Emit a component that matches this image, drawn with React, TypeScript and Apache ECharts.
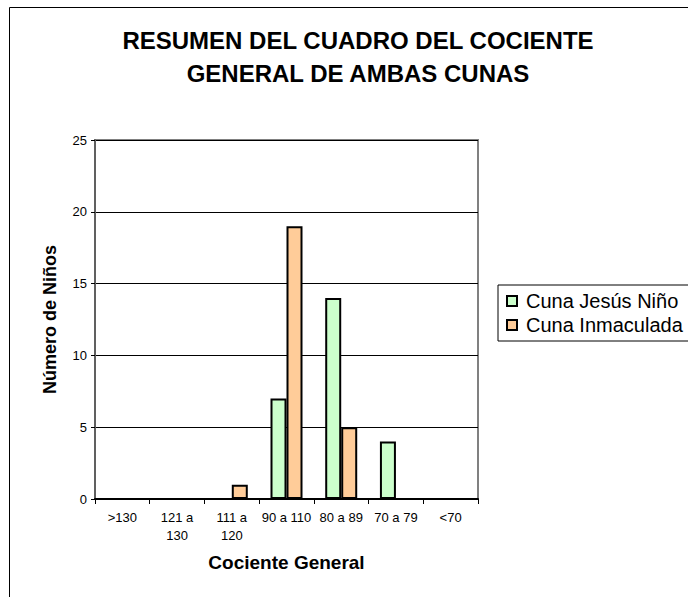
import React, { useEffect, useRef } from "react";
import * as echarts from "echarts";

const categories = [">130", "121 a\n130", "111 a\n120", "90 a 110", "80 a 89", "70 a 79", "<70"];
const jesusNino = [0, 0, 0, 7, 14, 4, 0];
const inmaculada = [0, 0, 1, 19, 5, 0, 0];
const yTicks = { min: 0, max: 25, interval: 5 };

export default function App() {
  const ref = useRef<HTMLDivElement>(null);
  useEffect(() => {
    if (!ref.current) return;
    const chart = echarts.init(ref.current, null, { renderer: "svg" });
    const font = "'Liberation Sans', Arial, sans-serif";
    chart.setOption({
      animation: false,
      backgroundColor: "#ffffff",
      textStyle: { fontFamily: font },
      graphic: [
        {
          type: "rect",
          shape: { x: 9.5, y: 7.5, width: 800, height: 800 },
          style: { fill: "none", stroke: "#000", lineWidth: 1 },
          silent: true,
        },
      ],
      title: {
        text: "RESUMEN DEL CUADRO DEL COCIENTE\nGENERAL DE AMBAS CUNAS",
        left: 353,
        textAlign: "center",
        top: 19,
        textStyle: { fontFamily: font, fontSize: 24, fontWeight: "bold", color: "#000", lineHeight: 33 },
      },
      legend: {
        orient: "vertical",
        left: 498,
        top: 285,
        icon: "rect",
        itemWidth: 10,
        itemHeight: 10,
        itemGap: 4,
        padding: [6, 40, 6, 8],
        borderColor: "#000",
        borderWidth: 1,
        textStyle: { fontFamily: font, fontSize: 20, color: "#000", padding: [0, 0, 0, 4] },
        data: ["Cuna Jesús Niño", "Cuna Inmaculada"],
      },
      grid: {
        left: 95,
        top: 140,
        right: 210,
        bottom: 98,
        show: true,
        borderColor: "#808080",
        borderWidth: 2,
        backgroundColor: "#fff",
      },
      xAxis: {
        type: "category",
        data: categories,
        name: "Cociente General",
        nameLocation: "middle",
        nameGap: 54,
        nameTextStyle: { fontFamily: font, fontSize: 19, fontWeight: "bold", color: "#000" },
        axisLine: { lineStyle: { color: "#000", width: 2 } },
        axisTick: { show: true, length: 5, lineStyle: { color: "#000", width: 1 } },
        axisLabel: { interval: 0, fontSize: 13, color: "#000", lineHeight: 18, margin: 9, fontFamily: font },
        splitLine: { show: false },
      },
      yAxis: {
        type: "value",
        min: yTicks.min,
        max: yTicks.max,
        interval: yTicks.interval,
        name: "Número de Niños",
        nameLocation: "middle",
        nameGap: 36,
        nameRotate: 90,
        nameTextStyle: { fontFamily: font, fontSize: 18, fontWeight: "bold", color: "#000" },
        axisLine: { show: true, lineStyle: { color: "#606060", width: 2 } },
        axisTick: { show: true, length: 4, lineStyle: { color: "#000" } },
        axisLabel: { fontSize: 13, color: "#000", margin: 8, fontFamily: font },
        splitLine: { show: true, lineStyle: { color: "#000", width: 1 } },
      },
      series: [
        {
          name: "Cuna Jesús Niño",
          type: "bar",
          data: jesusNino,
          barWidth: 16,
          barGap: "0%",
          itemStyle: { color: "#CCFFCC", borderColor: "#000", borderWidth: 2 },
        },
        {
          name: "Cuna Inmaculada",
          type: "bar",
          data: inmaculada,
          barWidth: 16,
          barGap: "0%",
          itemStyle: { color: "#FFCC99", borderColor: "#000", borderWidth: 2 },
        },
      ],
    });
    return () => chart.dispose();
  }, []);
  return (
    <div
      ref={ref}
      style={{ position: "fixed", left: 0, top: 0, width: 688, height: 597 }}
    />
  );
}
